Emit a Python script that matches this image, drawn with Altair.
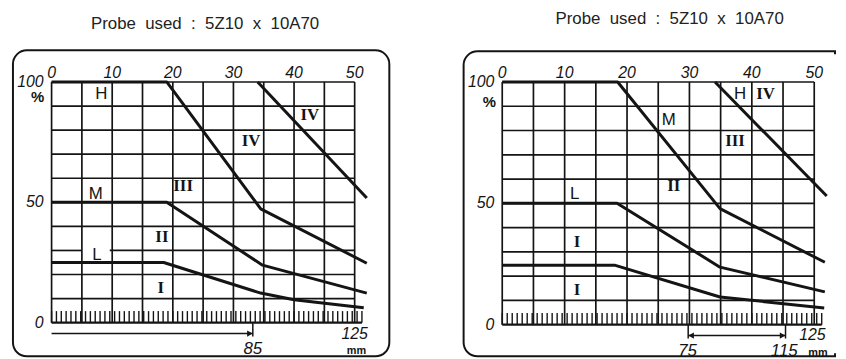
import altair as alt
import pandas as pd

INK = "#141414"

# ---------------- shared values ----------------
title_text = "Probe\u00a0\u00a0used\u00a0\u00a0:\u00a0\u00a05Z10\u00a0\u00a0x\u00a0\u00a010A70"
x_tick_values = [0, 10, 20, 30, 40, 50]
x_tick_labels = ["0", "10", "20", "30", "40", "50"]
y_tick_values = [0, 50, 100]
y_tick_labels = ["0", "50", "100"]
grid_x = [0, 5, 10, 15, 20, 25, 30, 35, 40, 45, 50]
grid_y = [10, 20, 30, 40, 50, 60, 70, 80, 90, 100]
ruler_mm = list(range(0, 129, 2))
mm_per_unit = 2.5

# ---------------- left panel ----------------
left_H_x = [0, 19, 34.5, 52]
left_H_y = [100, 100, 47.3, 24.7]
left_M_x = [0, 19, 34.8, 52]
left_M_y = [50, 50, 23.9, 12.3]
left_L_x = [0, 18.5, 34.5, 40, 51.5]
left_L_y = [25, 25, 12.3, 9.5, 6.2]
left_IV_x = [34, 52]
left_IV_y = [100, 51.8]

left_letters = ["H", "M", "L"]
left_letters_x = [8.2, 7.3, 7.5]
left_letters_y = [95, 53.5, 28]
left_roman = ["III", "II", "I", "IV", "IV"]
left_roman_x = [21.7, 18.2, 18, 32.9, 42.6]
left_roman_y = [56.8, 35.4, 14.4, 75.3, 86.4]
left_grid_breaks = {30: (5, 9.6)}

left_big = ["85"]
left_big_x = [33.2]
left_arrow = (0, 33.2)
left_heads_right = [33.2]
left_heads_left = []
left_125_x = 50
left_mm_x = 50.3

# ---------------- right panel ----------------
right_H_x = [0, 18.5, 34.9, 51.7]
right_H_y = [100, 100, 47.8, 25.7]
right_M_x = [0, 18.4, 34.9, 51.7]
right_M_y = [50, 50, 23.7, 13.5]
right_L_x = [0, 18, 34.9, 51.6]
right_L_y = [24.5, 24.5, 11.4, 6.9]
right_IV_x = [34.1, 52]
right_IV_y = [100, 53]

right_letters = ["H", "M", "L"]
right_letters_x = [38.1, 26.7, 11.6]
right_letters_y = [95, 84.5, 54]
right_roman = ["IV", "III", "II", "I", "I"]
right_roman_x = [42.2, 37.3, 27.5, 12, 12]
right_roman_y = [95, 75.5, 57, 34, 14.3]
right_grid_breaks = {}

right_big = ["75", "115"]
right_big_x = [29.7, 45.2]
right_arrow = (29.8, 45.4)
right_heads_right = [45.4]
right_heads_left = [29.8]
right_125_x = 49.7
right_mm_x = 50.6


XS = alt.Scale(domain=[0, 50], nice=False, zero=False)
YS = alt.Scale(domain=[0, 100], nice=False, zero=False)


def X(f):
    return alt.X(f, type="quantitative", scale=XS, axis=None)


def Y(f):
    return alt.Y(f, type="quantitative", scale=YS, axis=None)


def panel(P):
    W, H = P["W"], P["H"]
    layers = []

    # rounded frame
    fx0, fx1, fy0, fy1 = P["frame"]
    layers.append(
        alt.Chart(pd.DataFrame({"k": [0]}))
        .mark_rect(fill="white", stroke=INK, strokeWidth=2, **P["corner"])
        .encode(x=alt.value(fx0), x2=alt.value(fx1), y=alt.value(fy0), y2=alt.value(fy1))
    )
    if P.get("cover"):
        layers.append(
            alt.Chart(pd.DataFrame({"k": [0]}))
            .mark_rule(color="white", strokeWidth=5)
            .encode(x=alt.value(fx1), y=alt.value(fy0 + 3), y2=alt.value(fy1 - 3))
        )

    # title
    layers.append(
        alt.Chart(pd.DataFrame({"t": [title_text]}))
        .mark_text(font="Liberation Sans", fontSize=17, color="#222222", align="center", baseline="middle")
        .encode(x=alt.value(P["title_xy"][0]), y=alt.value(P["title_xy"][1]), text="t:N")
    )

    # vertical grid
    layers.append(
        alt.Chart(pd.DataFrame({"gx": grid_x}))
        .transform_calculate(y0="0", y1="100")
        .mark_rule(color=INK, strokeWidth=1.7)
        .encode(x=X("gx"), y=Y("y0"), y2=alt.Y2("y1"))
    )
    # horizontal grid (segments)
    segs = []
    for gy in grid_y:
        if gy in P["breaks"]:
            a, b = P["breaks"][gy]
            segs.append({"gy": gy, "x0": 0, "x1": a})
            segs.append({"gy": gy, "x0": b, "x1": 50})
        else:
            segs.append({"gy": gy, "x0": 0, "x1": 50})
    layers.append(
        alt.Chart(pd.DataFrame(segs))
        .mark_rule(color=INK, strokeWidth=1.7)
        .encode(y=Y("gy"), x=X("x0"), x2=alt.X2("x1"))
    )
    # ruler ticks
    layers.append(
        alt.Chart(pd.DataFrame({"mm": ruler_mm}))
        .transform_calculate(tx=f"datum.mm / {mm_per_unit}", y0="0", y1="4.8")
        .mark_rule(color=INK, strokeWidth=1.4)
        .encode(x=X("tx"), y=Y("y0"), y2=alt.Y2("y1"))
    )
    # baseline
    layers.append(
        alt.Chart(pd.DataFrame({"m0": [0], "m1": [max(ruler_mm)]}))
        .transform_calculate(x0=f"datum.m0 / {mm_per_unit}", x1=f"datum.m1 / {mm_per_unit}", y0="0")
        .mark_rule(color=INK, strokeWidth=2.4)
        .encode(x=X("x0"), x2=alt.X2("x1"), y=Y("y0"))
    )

    # curves
    rows = []
    for name, (xs, ys) in P["curves"].items():
        for i, (xv, yv) in enumerate(zip(xs, ys)):
            rows.append({"curve": name, "i": i, "x": xv, "y": yv})
    layers.append(
        alt.Chart(pd.DataFrame(rows))
        .mark_line(color=INK, strokeWidth=3, strokeJoin="round")
        .encode(x=X("x"), y=Y("y"), detail="curve:N", order="i:Q")
    )

    # region letters
    layers.append(
        alt.Chart(pd.DataFrame({"t": P["letters"], "x": P["letters_x"], "y": P["letters_y"]}))
        .mark_text(font="Liberation Sans", fontSize=17, color=INK, align="center", baseline="middle")
        .encode(x=X("x"), y=Y("y"), text="t:N")
    )
    layers.append(
        alt.Chart(pd.DataFrame({"t": P["roman"], "x": P["roman_x"], "y": P["roman_y"]}))
        .mark_text(font="Liberation Serif", fontSize=17, fontWeight="bold", color=INK, align="center", baseline="middle")
        .encode(x=X("x"), y=Y("y"), text="t:N")
    )

    # tick labels
    layers.append(
        alt.Chart(pd.DataFrame({"v": x_tick_values, "l": x_tick_labels}))
        .mark_text(font="Liberation Sans", fontSize=16, fontStyle="italic", color=INK, align="center", baseline="alphabetic")
        .encode(x=X("v"), y=alt.value(-4), text="l:N")
    )
    layers.append(
        alt.Chart(pd.DataFrame({"v": y_tick_values, "l": y_tick_labels}))
        .mark_text(font="Liberation Sans", fontSize=16, fontStyle="italic", color=INK, align="right", baseline="middle")
        .encode(x=alt.value(-8), y=Y("v"), text="l:N")
    )
    layers.append(
        alt.Chart(pd.DataFrame({"t": ["%"]}))
        .mark_text(font="Liberation Sans", fontSize=15, fontWeight="bold", color=INK, align="center", baseline="middle")
        .encode(x=alt.value(P["pct"][0]), y=alt.value(P["pct"][1]), text="t:N")
    )

    # bottom annotations
    layers.append(
        alt.Chart(pd.DataFrame({"t": P["big"], "x": P["big_x"]}))
        .mark_text(font="Liberation Sans", fontSize=17, fontStyle="italic", color=INK, align="center", baseline="middle")
        .encode(x=X("x"), y=alt.value(H + 27), text="t:N")
    )
    layers.append(
        alt.Chart(pd.DataFrame({"t": ["125"], "x": [P["x125"]]}))
        .mark_text(font="Liberation Sans", fontSize=16, fontStyle="italic", color=INK, align="center", baseline="middle")
        .encode(x=X("x"), y=alt.value(H + 11), text="t:N")
    )
    layers.append(
        alt.Chart(pd.DataFrame({"t": ["mm"], "x": [P["xmm"]]}))
        .mark_text(font="Liberation Sans", fontSize=11, fontWeight="bold", color=INK, align="center", baseline="middle")
        .encode(x=X("x"), y=alt.value(H + 29), text="t:N")
    )
    ay = H + 11
    layers.append(
        alt.Chart(pd.DataFrame({"x0": [P["arrow"][0]], "x1": [P["arrow"][1]]}))
        .mark_rule(color=INK, strokeWidth=1.5)
        .encode(x=X("x0"), x2=alt.X2("x1"), y=alt.value(ay))
    )
    ends = [v for v in P["heads_right"] + P["heads_left"]]
    layers.append(
        alt.Chart(pd.DataFrame({"x": ends}))
        .mark_rule(color=INK, strokeWidth=1.5)
        .encode(x=X("x"), y=alt.value(H), y2=alt.value(H + 14))
    )
    if P["heads_right"]:
        layers.append(
            alt.Chart(pd.DataFrame({"x": P["heads_right"]}))
            .mark_point(shape="triangle-right", filled=True, size=40, color=INK, opacity=1, xOffset=-3)
            .encode(x=X("x"), y=alt.value(ay))
        )
    if P["heads_left"]:
        layers.append(
            alt.Chart(pd.DataFrame({"x": P["heads_left"]}))
            .mark_point(shape="triangle-left", filled=True, size=40, color=INK, opacity=1, xOffset=3)
            .encode(x=X("x"), y=alt.value(ay))
        )

    return alt.layer(*layers).properties(width=W, height=H)


left = panel({
    "W": 306, "H": 243,
    "frame": (-39, 341, -32, 277),
    "corner": {"cornerRadius": 14},
    "title_xy": (155, -59),
    "pct": (-14, 15),
    "breaks": left_grid_breaks,
    "curves": {"H": (left_H_x, left_H_y), "M": (left_M_x, left_M_y),
               "L": (left_L_x, left_L_y), "IV": (left_IV_x, left_IV_y)},
    "letters": left_letters, "letters_x": left_letters_x, "letters_y": left_letters_y,
    "roman": left_roman, "roman_x": left_roman_x, "roman_y": left_roman_y,
    "big": left_big, "big_x": left_big_x, "arrow": left_arrow,
    "heads_right": left_heads_right, "heads_left": left_heads_left,
    "x125": left_125_x, "xmm": left_mm_x,
})

right = panel({
    "W": 315, "H": 245,
    "frame": (-39, 336, -31, 277),
    "corner": {"cornerRadiusTopLeft": 14, "cornerRadiusBottomLeft": 14},
    "cover": True,
    "title_xy": (169, -64),
    "pct": (-13, 20),
    "breaks": right_grid_breaks,
    "curves": {"H": (right_H_x, right_H_y), "M": (right_M_x, right_M_y),
               "L": (right_L_x, right_L_y), "IV": (right_IV_x, right_IV_y)},
    "letters": right_letters, "letters_x": right_letters_x, "letters_y": right_letters_y,
    "roman": right_roman, "roman_x": right_roman_x, "roman_y": right_roman_y,
    "big": right_big, "big_x": right_big_x, "arrow": right_arrow,
    "heads_right": right_heads_right, "heads_left": right_heads_left,
    "x125": right_125_x, "xmm": right_mm_x,
})

chart = (
    alt.hconcat(left, right, spacing=149, bounds="flush")
    .properties(padding={"left": 4, "top": 0, "right": 0, "bottom": 0})
    .configure_view(stroke=None)
)

chart.save("out.html", embed_options={"renderer": "svg", "actions": False})
